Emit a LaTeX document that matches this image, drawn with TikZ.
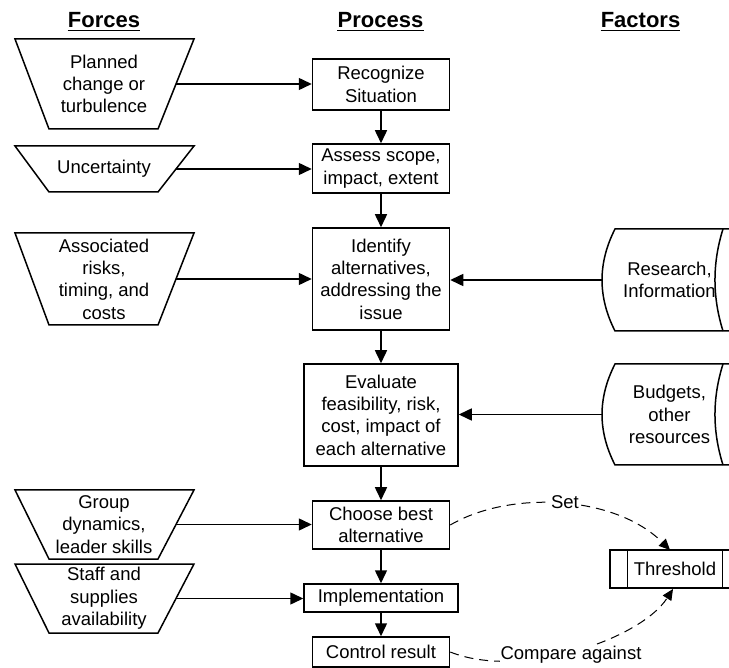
\documentclass[tikz,border=0pt]{standalone}
\usepackage{fontspec}
\setmainfont{Liberation Sans}
\usetikzlibrary{arrows.meta}
\tikzset{
  bline/.style={line width=1.5pt},
  txt/.style={align=center, font=\fontsize{18.5}{22.3}\selectfont, inner sep=0pt},
  procbox/.style={draw, bline, align=center, font=\fontsize{18.5}{22.3}\selectfont, inner sep=2pt, minimum width=#1},
  head/.style={font=\fontsize{22}{26}\selectfont\bfseries, inner sep=0pt, anchor=base},
  arr/.style={bline, -{Triangle[length=13pt,width=12pt]}},
  darr/.style={line width=1pt, dash pattern=on 9pt off 6pt, -{Triangle[length=11pt,width=10pt]}},
  lbl/.style={fill=white, font=\fontsize{18.5}{22.3}\selectfont, inner sep=1pt},
}
\newcommand\forcebox[4]{%
  \draw[bline] (15,#2) -- (194,#2) -- (158,#3) -- (49,#3) -- cycle;
  \node[txt] (#1) at (104,{(#2+#3)/2}) {#4};
  \coordinate (#1r) at (176,{(#2+#3)/2});
}
\newcommand\factorbox[4]{%
  \draw[bline] (740,#2) -- (615,#2) .. controls (597.7,{#2+34}) and (597.7,{#3-34}) .. (615,#3) -- (740,#3);
  \draw[bline] (723,#2) .. controls (712.3,{#2+34}) and (712.3,{#3-34}) .. (723,#3);
  \node[txt] (#1) at (669.5,{(#2+#3)/2}) {#4};
  \coordinate (#1l) at (602,{(#2+#3)/2});
}
\begin{document}
\begin{tikzpicture}[x=1pt,y=-1pt]
\useasboundingbox (0,0) rectangle (729,668);
\clip (0,0) rectangle (729,668);
% headers
\node[head] (hf) at (104,28) {Forces};
\node[head] (hp) at (380.5,28) {Process};
\node[head] (hx) at (640.5,28) {Factors};
\foreach \h in {hf,hp,hx}{
  \draw[line width=1.8pt] ([yshift=-2.6pt]\h.base west) -- ([yshift=-2.6pt]\h.base east);
}
% forces
\forcebox{f1}{39}{129}{Planned\\change or\\turbulence}
\forcebox{f2}{146}{192}{Uncertainty}
\forcebox{f3}{233}{325}{Associated\\risks,\\timing, and\\costs}
\forcebox{f4}{490}{559}{Group\\dynamics,\\leader skills}
\forcebox{f5}{564}{633}{Staff and\\supplies\\availability}
% process
\node[procbox=137pt, minimum height=51pt] (rec) at (381,84.5) {Recognize\\Situation};
\node[procbox=137pt, minimum height=49pt] (ass) at (381,168.5) {Assess scope,\\impact, extent};
\node[procbox=137pt, minimum height=102pt] (ide) at (381,279) {Identify\\alternatives,\\addressing the\\issue};
\node[procbox=154pt, minimum height=102pt] (eva) at (381,415) {Evaluate\\feasibility, risk,\\cost, impact of\\each alternative};
\node[procbox=137pt, minimum height=48pt] (cho) at (381,525) {Choose best\\alternative};
\node[procbox=154pt, minimum height=28pt] (imp) at (381,598) {Implementation};
\node[procbox=137pt, minimum height=30pt] (con) at (381,652) {Control result};
% factors
\factorbox{r1}{229}{331}{Research,\\Information}
\factorbox{r2}{364}{465}{Budgets,\\other\\resources}
% threshold
\draw[bline] (610,550) rectangle (740,588);
\draw[bline] (627.5,550) -- (627.5,588);
\draw[bline] (722.5,550) -- (722.5,588);
\node[txt] (thr) at (675,569) {Threshold};
\coordinate (thrN) at (670,550);
\coordinate (thrS) at (673,589);
% arrows
\draw[arr] (f1r) -- (f1r -| rec.west);
\draw[arr] (f2r) -- (f2r -| ass.west);
\draw[arr] (f3r) -- (f3r -| ide.west);
\draw[arr] (f4r) -- (f4r -| cho.west);
\draw[arr] (f5r) -- (f5r -| imp.west);
\draw[arr] (r1l) -- (r1l -| ide.east);
\draw[arr] (r2l) -- (r2l -| eva.east);
\draw[arr] (rec) -- (ass);
\draw[arr] (ass) -- (ide);
\draw[arr] (ide) -- (eva);
\draw[arr] (eva) -- (cho);
\draw[arr] (cho) -- (imp);
\draw[arr] (imp) -- (con);
% dashed
\draw[darr] (cho.east) .. controls (510,490) and (615,495) .. (thrN);
\node[lbl] (set) at (565,502) {Set};
\draw[darr] (con.east) .. controls (520,680) and (640,640) .. (thrS);
\node[lbl] (cmp) at (571,655) {Compare against};
\end{tikzpicture}
\end{document}
